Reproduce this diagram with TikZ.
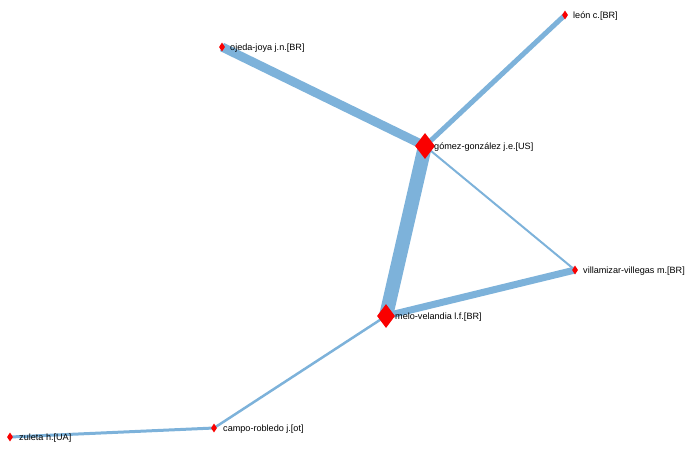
\documentclass[tikz,border=0pt]{standalone}
\usepackage{fontspec}
\setmainfont{Liberation Sans}
\usetikzlibrary{shapes.geometric}
\definecolor{edgeblue}{RGB}{125,178,218}
\definecolor{nodered}{RGB}{250,0,0}
\tikzset{
  big/.style={diamond, fill=nodered, draw=none, inner sep=0pt, minimum width=20pt, minimum height=26pt},
  mid/.style={diamond, fill=nodered, draw=none, inner sep=0pt, minimum width=18pt, minimum height=24pt},
  small/.style={diamond, fill=nodered, draw=none, inner sep=0pt, minimum width=6pt, minimum height=9pt},
  lab/.style={anchor=west, inner sep=0pt, font=\fontsize{9.1}{11}\selectfont, text=black},
  edge/.style={draw=edgeblue, line cap=butt}
}
\begin{document}
\begin{tikzpicture}[x=1pt,y=-1pt]
\useasboundingbox (0,0) rectangle (700,456);
\coordinate (g) at (425,146);
\coordinate (m) at (386,316);
\coordinate (o) at (222,47);
\coordinate (l) at (565,15);
\coordinate (v) at (575,270);
\coordinate (c) at (214,428);
\coordinate (z) at (10,437);
% edges
\draw[edge, line width=9pt] (o) -- (g);
\draw[edge, line width=5pt] (g) -- (l);
\draw[edge, line width=14pt] (g) -- (m);
\draw[edge, line width=2pt] (g) -- (v);
\draw[edge, line width=7pt] (m) -- (v);
\draw[edge, line width=2.5pt] (m) -- (c);
\draw[edge, line width=3pt] (c) -- (z);
% nodes
\node[big] (G) at (g) {};
\node[mid] (M) at (m) {};
\node[small] (O) at (o) {};
\node[small] (L) at (l) {};
\node[small] (V) at (v) {};
\node[small] (C) at (c) {};
\node[small] (Z) at (z) {};
% labels
\node[lab] (Gl) at (434,147) {gómez-gonzález j.e.[US]};
\node[lab] (Ml) at (395,317) {melo-velandia l.f.[BR]};
\node[lab] (Ol) at (230,48) {ojeda-joya j.n.[BR]};
\node[lab] (Ll) at (573,16) {león c.[BR]};
\node[lab] (Vl) at (583,271) {villamizar-villegas m.[BR]};
\node[lab] (Cl) at (223,429) {campo-robledo j.[ot]};
\node[lab] (Zl) at (19,438) {zuleta h.[UA]};
\end{tikzpicture}
\end{document}
